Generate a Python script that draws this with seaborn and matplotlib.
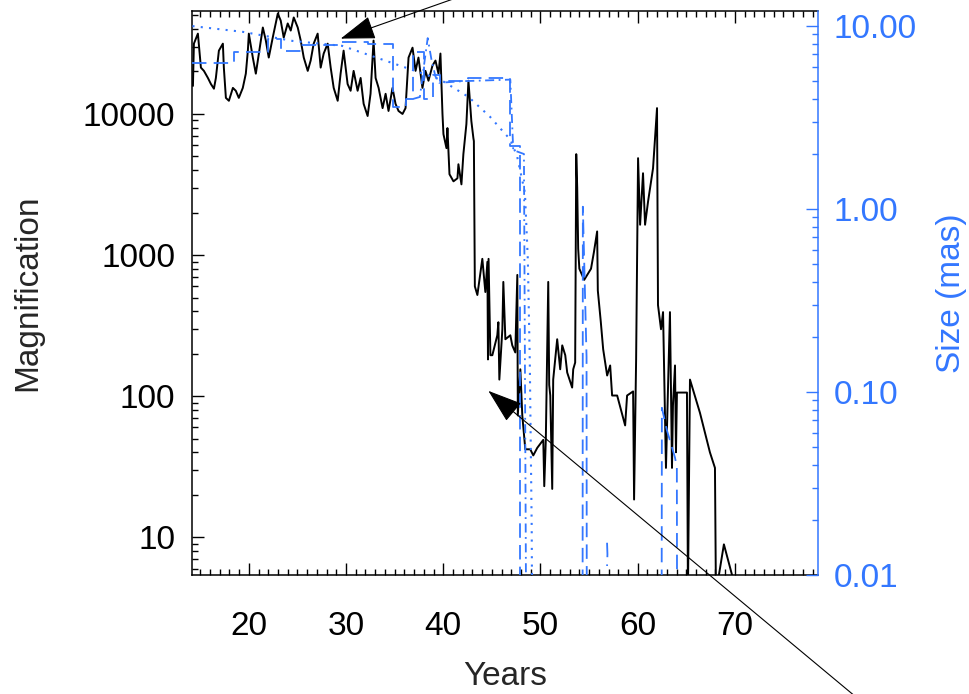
import matplotlib
matplotlib.use("Agg")
import matplotlib.pyplot as plt
from matplotlib.ticker import FixedLocator, FixedFormatter, MultipleLocator, LogLocator, NullFormatter
import seaborn as sns

# ---------------- data ----------------
mag_years = [
    14.25, 14.35, 14.76, 15.07, 15.38, 15.79, 16.10, 16.41, 16.61, 16.92,
    17.33, 17.43, 17.64, 17.95, 18.36, 18.66, 18.97, 19.38, 19.69, 19.90,
    20.00, 20.41, 20.72, 21.03, 21.44, 21.75, 22.05, 22.46, 22.77, 22.98,
    23.28, 23.59, 24.00, 24.31, 24.62, 25.03, 25.34, 25.65, 26.06, 26.36,
    26.67, 27.08, 27.39, 27.70, 28.11, 28.42, 28.73, 29.14, 29.44, 29.75,
    30.16, 30.47, 30.78, 31.19, 31.50, 31.81, 32.22, 32.52, 32.83, 33.04,
    33.35, 33.76, 34.07, 34.37, 34.78, 35.09, 35.40, 35.81, 36.12, 36.43,
    36.84, 37.15, 37.45, 37.86, 38.17, 38.48, 38.89, 39.20, 39.51, 39.71,
    39.92, 40.02, 40.33, 40.43, 40.64, 41.05, 41.46, 41.56, 41.87, 42.07,
    42.38, 42.59, 42.89, 43.10, 43.15, 43.25, 43.51, 44.02, 44.33, 44.54,
    44.60, 44.66, 44.85, 45.05, 45.56, 45.67, 45.77, 46.08, 46.18, 46.39,
    46.90, 47.10, 47.41, 47.62, 47.67, 47.93, 48.13, 48.44, 48.95, 49.26,
    49.67, 50.29, 50.39, 50.55, 50.80, 50.90, 51.01, 51.21, 51.31, 51.72,
    52.03, 52.24, 52.55, 52.75, 53.26, 53.37, 53.57, 53.68, 53.78, 53.88,
    54.00, 54.50, 55.20, 55.50, 55.83, 55.90, 56.20, 56.45, 56.86, 57.17,
    57.37, 57.89, 58.71, 58.91, 59.53, 59.63, 59.84, 60.04, 60.25, 60.55,
    60.76, 61.07, 61.58, 61.99, 62.09, 62.40, 62.61, 62.91, 63.02, 63.32,
    63.53, 63.63, 63.84, 63.94, 64.04, 65.07, 65.17, 65.38, 66.41, 67.43,
    67.95, 68.05, 68.87, 70.21,
]
mag_values = [
    15800, 31500, 37100, 21300, 20200, 18000, 16300, 15100, 18000, 28100,
    31500, 21300, 13000, 12400, 15300, 14600, 13000, 15300, 19300, 28100,
    37100, 25100, 19300, 26800, 41000, 33100, 25100, 34800, 43800, 51500,
    45900, 34800, 43800, 39000, 48300, 41000, 33100, 25100, 20200, 23900,
    31500, 37100, 21300, 26800, 31500, 21300, 15300, 12400, 19300, 28100,
    16300, 14600, 20200, 14600, 18000, 11800, 9670, 13900, 33100, 18000,
    15300, 11000, 13900, 10500, 15300, 11800, 10500, 10000, 11000, 25100,
    29500, 20200, 25100, 15300, 20200, 17200, 22000, 23900, 19300, 26800,
    10000, 7200, 5720, 7940, 3740, 3330, 3500, 4400, 3170, 5190,
    8480, 17200, 8910, 6740, 6420, 600, 521, 940, 547, 895,
    182, 940, 195, 195, 270, 334, 131, 298, 645, 253,
    270, 229, 204, 723, 73, 155, 73, 42, 42, 38,
    43, 49, 23, 49, 645, 120, 101, 22, 131, 253,
    155, 229, 195, 147, 115, 155, 173, 5190, 3000, 1110,
    800, 667, 800, 1050, 1470, 560, 340, 215, 140, 165,
    101, 101, 62, 101, 108, 18.5, 182, 4860, 1640, 3800,
    1640, 2400, 4120, 11000, 442, 298, 394, 31, 62, 394,
    31, 86, 165, 40, 106, 106, 4, 131, 76, 40,
    31, 4, 8.9, 4,
]

# source size (right axis, mas)
dotted_years = [14.2, 19.4, 24.5, 29.6, 34.7, 39.7, 42.6, 44.8, 46.3, 46.9, 47.6, 48.4, 48.7, 48.9, 49.1, 49.15]
dotted_sizes = [10.0, 9.3, 8.3, 7.8, 6.3, 5.1, 4.1, 3.2, 2.6, 2.4, 1.94, 1.23, 0.53, 0.15, 0.018, 0.005]

dashed_years = [14.2, 18.46, 21.95, 23.28, 25.34, 29.14, 32.22, 34.88, 36.12, 36.84, 37.97, 38.99, 39.71, 42.59, 46.90, 47.93]
dashed_sizes = [6.3, 7.2, 8.5, 7.3, 7.9, 8.2, 8.0, 3.6, 4.0, 7.2, 4.0, 5.4, 5.0, 5.2, 2.2, 0.003]

spike1_years = [54.33, 54.36, 54.74, 54.77]
spike1_sizes = [0.003, 1.03, 0.156, 0.003]
spike2_years = [62.46, 62.49, 63.00, 63.83, 64.03, 64.06]
spike2_sizes = [0.003, 0.082, 0.062, 0.044, 0.039, 0.003]
bump_years = [56.85, 56.89, 56.85]
bump_sizes = [0.015, 0.013, 0.0112]

dashdot_years = [36.9, 37.6, 38.0, 38.4, 38.8, 39.2, 39.6, 42.0, 46.9, 47.2, 48.3, 48.55]
dashdot_sizes = [4.0, 4.1, 6.0, 8.6, 6.5, 5.3, 4.9, 5.0, 5.1, 2.1, 2.0, 0.003]

year_ticks = [20, 30, 40, 50, 60, 70]
mag_ticks = [10, 100, 1000, 10000]
mag_tick_labels = ["10", "100", "1000", "10000"]
size_ticks = [0.01, 0.1, 1, 10]
size_tick_labels = ["0.01", "0.10", "1.00", "10.00"]

arrow1_tip = (29.45, 34200)
arrow2_tip = (44.64, 109)

# ---------------- style ----------------
sns.set_style("ticks")
plt.rcParams["font.family"] = ["Liberation Sans", "DejaVu Sans"]
BLUE = "#3377ff"
FS = 24

fig = plt.figure(figsize=(9.7, 6.94), dpi=100)
ax = fig.add_axes([0.1979, 0.1715, 0.6454, 0.8127])
ax2 = ax.twinx()

ax.set_yscale("log")
ax2.set_yscale("log")

sns.lineplot(x=mag_years, y=mag_values, ax=ax, color="black", lw=1.4,
             sort=False, estimator=None, legend=False, zorder=3)

sns.lineplot(x=dotted_years, y=dotted_sizes, ax=ax2, color=BLUE, lw=1.5,
             linestyle=(0, (1, 3)), sort=False, estimator=None, legend=False)
sns.lineplot(x=dashed_years, y=dashed_sizes, ax=ax2, color=BLUE, lw=1.3,
             linestyle=(0, (8, 4)), drawstyle="steps-post", sort=False,
             estimator=None, legend=False)
for yy, ss in [(spike1_years, spike1_sizes), (spike2_years, spike2_sizes),
               (bump_years, bump_sizes)]:
    sns.lineplot(x=yy, y=ss, ax=ax2, color=BLUE, lw=1.3, linestyle=(0, (8, 4)),
                 sort=False, estimator=None, legend=False)
sns.lineplot(x=dashdot_years, y=dashdot_sizes, ax=ax2, color=BLUE, lw=1.3,
             linestyle=(0, (5, 2.5, 1, 2.5)), sort=False, estimator=None, legend=False)

ax.set_xlim(14.15, 78.55)
ax.set_ylim(5.4, 53700)
ax2.set_ylim(0.01, 12.1)

# x ticks
ax.xaxis.set_major_locator(FixedLocator(year_ticks))
ax.xaxis.set_minor_locator(MultipleLocator(1))
# left y ticks
ax.yaxis.set_major_locator(FixedLocator(mag_ticks))
ax.yaxis.set_major_formatter(FixedFormatter(mag_tick_labels))
ax.yaxis.set_minor_locator(LogLocator(base=10, subs=range(2, 10), numticks=20))
ax.yaxis.set_minor_formatter(NullFormatter())
# right y ticks
ax2.yaxis.set_major_locator(FixedLocator(size_ticks))
ax2.yaxis.set_major_formatter(FixedFormatter(size_tick_labels))
ax2.yaxis.set_minor_locator(LogLocator(base=10, subs=range(2, 10), numticks=20))
ax2.yaxis.set_minor_formatter(NullFormatter())

ax.tick_params(axis="x", which="both", direction="in", top=True, bottom=True,
               labelsize=FS, pad=26, colors="black")
ax.tick_params(axis="y", which="both", direction="in", left=True, right=False,
               labelsize=FS, pad=12, colors="black")
ax.tick_params(which="major", length=8.6, width=1.0)
ax.tick_params(which="minor", length=4.3, width=1.0)
ax2.tick_params(axis="y", which="both", direction="in", colors=BLUE,
                labelsize=FS, pad=11)
ax2.tick_params(which="major", length=8.6, width=1.0)
ax2.tick_params(which="minor", length=4.3, width=1.0)

for s in ["left", "top", "bottom"]:
    ax.spines[s].set_color("black")
    ax.spines[s].set_linewidth(1.1)
    ax2.spines[s].set_visible(False)
ax.spines["right"].set_visible(False)
ax2.spines["right"].set_color(BLUE)
ax2.spines["right"].set_linewidth(1.1)

ax.set_xlabel("Years", fontsize=FS)
ax.xaxis.set_label_coords(0.5, -0.152)
ax.set_ylabel("Magnification", fontsize=FS)
ax.yaxis.set_label_coords(-0.238, 0.5)
ax2.set_ylabel("Size (mas)", fontsize=FS, color=BLUE)
ax2.yaxis.set_label_coords(1.188, 0.5)

# annotation arrows
astyle = "-|>,head_length=2.2,head_width=0.75"
ax2.annotate("", xy=arrow1_tip, xycoords=ax.transData,
             xytext=(473 / 970, 1 + 8 / 694), textcoords="figure fraction",
             arrowprops=dict(arrowstyle=astyle, color="black", lw=0.8,
                             mutation_scale=10, shrinkA=0, shrinkB=0),
             annotation_clip=False, zorder=10)
ax2.annotate("", xy=arrow2_tip, xycoords=ax.transData,
             xytext=(862 / 970, -8 / 694), textcoords="figure fraction",
             arrowprops=dict(arrowstyle=astyle, color="black", lw=0.8,
                             mutation_scale=10, shrinkA=0, shrinkB=0),
             annotation_clip=False, zorder=10)

fig.savefig("out.png", dpi=100, facecolor="white")
